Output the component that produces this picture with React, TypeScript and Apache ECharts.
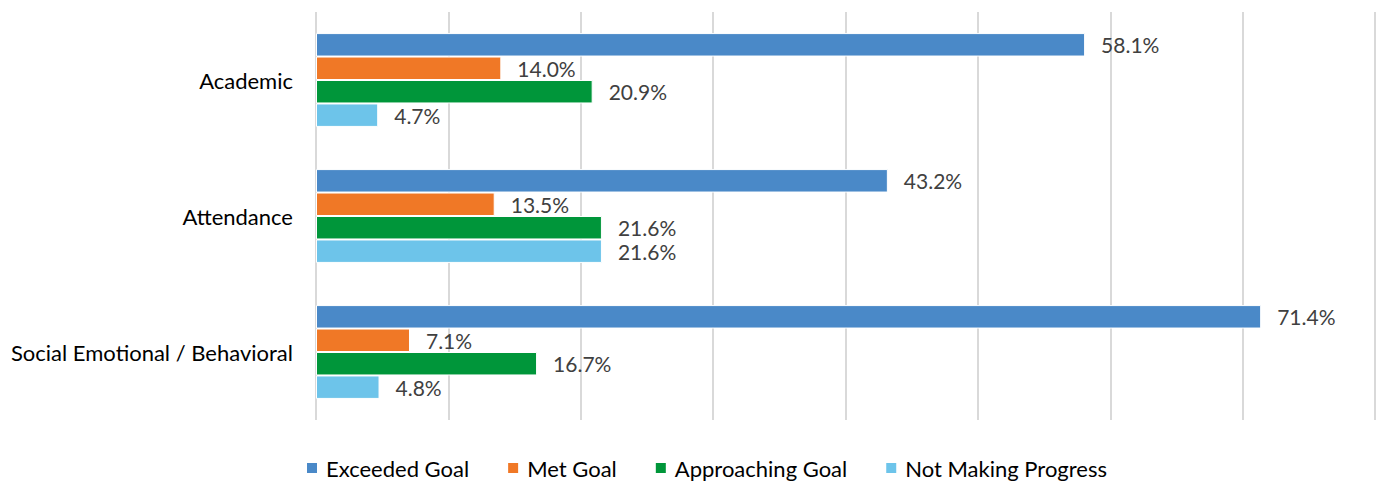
import React, { useEffect, useRef } from "react";
import * as echarts from "echarts";

const categories = ["Academic", "Attendance", "Social Emotional / Behavioral"];
const seriesNames = ["Exceeded Goal", "Met Goal", "Approaching Goal", "Not Making Progress"];
const exceededGoal = [58.1, 43.2, 71.4];
const metGoal = [14.0, 13.5, 7.1];
const approachingGoal = [20.9, 21.6, 16.7];
const notMakingProgress = [4.7, 21.6, 4.8];
const colors = ["#4A89C8", "#F07826", "#00963A", "#6DC4EA"];

const FONT = "Lato";

export default function App() {
  const ref = useRef<HTMLDivElement>(null);
  useEffect(() => {
    if (!ref.current) return;
    const chart = echarts.init(ref.current, undefined, { renderer: "svg" });
    const data = [exceededGoal, metGoal, approachingGoal, notMakingProgress];
    chart.setOption({
      animation: false,
      textStyle: { fontFamily: FONT },
      grid: { left: 316, top: 12, width: 1059, height: 408 },
      legend: {
        bottom: 1,
        left: 300,
        itemWidth: 12,
        itemHeight: 12,
        itemGap: 37,
        icon: "rect",
        textStyle: { fontFamily: FONT, fontSize: 22, color: "#000", padding: [0, 0, 0, 3] },
        data: seriesNames,
      },
      xAxis: {
        type: "value",
        min: 0,
        max: 80,
        interval: 10,
        axisLabel: { show: false },
        axisLine: { show: false },
        axisTick: { show: false },
        splitLine: { show: true, lineStyle: { color: "#D9D9D9", width: 2 } },
      },
      yAxis: {
        type: "category",
        data: categories,
        inverse: true,
        axisLine: { show: false },
        axisTick: { show: false },
        axisLabel: { fontFamily: FONT, fontSize: 22, color: "#000", margin: 23 },
      },
      series: seriesNames.map((name, i) => ({
        name,
        type: "bar",
        data: data[i],
        barGap: "0%",
        barCategoryGap: "31%",
        itemStyle: { color: colors[i], borderColor: "#fff", borderWidth: 1 },
        label: {
          show: true,
          position: "right",
          distance: 16,
          formatter: (p: any) => p.value.toFixed(1) + "%",
          fontFamily: FONT,
          fontSize: 21,
          color: "#404040",
        },
      })),
    });
    return () => chart.dispose();
  }, []);
  return (
    <div
      ref={ref}
      style={{ position: "fixed", left: 0, top: 0, width: 1379, height: 485, background: "#fff" }}
    />
  );
}
